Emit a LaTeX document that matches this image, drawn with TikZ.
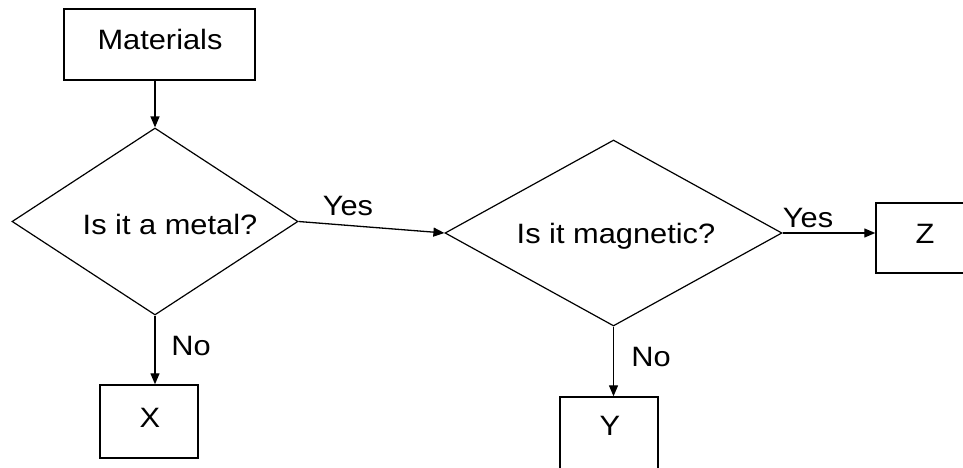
\documentclass[tikz,border=0pt]{standalone}
\usepackage{fontspec}
\setmainfont{Liberation Sans}
\usetikzlibrary{arrows.meta,shapes.geometric}
\newcommand{\wtxt}[1]{\scalebox{1.1}[1]{#1}}
\begin{document}
\begin{tikzpicture}[x=1pt,y=-1pt,
  txt/.style={anchor=base, inner sep=0pt, font=\fontsize{28}{32}\selectfont},
  box/.style={draw, line width=1.4pt, inner sep=0pt},
  dia/.style={draw, diamond, line width=1.2pt, inner sep=0pt},
  conn/.style={line width=1.3pt, -{Triangle[length=11pt,width=9pt]}}]
\clip (0,0) rectangle (963,468);
% shapes
\node[box, minimum width=191pt, minimum height=71pt] (mat) at (159.5,44.5) {};
\node[dia, minimum width=286pt, minimum height=187pt] (d1) at (155,221.5) {};
\node[dia, minimum width=337pt, minimum height=186pt] (d2) at (613.5,233) {};
\node[box, minimum width=98pt, minimum height=73pt] (X) at (149,421.5) {};
\node[box, minimum width=98pt, minimum height=73pt] (Y) at (609,433.5) {};
\node[box, minimum width=98pt, minimum height=70pt] (Z) at (925,238) {};
% texts
\node[txt] (tmat) at (160,50) {\wtxt{Materials}};
\node[txt] (td1) at (170,234) {\wtxt{Is it a metal?}};
\node[txt] (td2) at (616,243) {\wtxt{Is it magnetic?}};
\node[txt] (tX) at (150,427) {\wtxt{X}};
\node[txt] (tY) at (610,435) {\wtxt{Y}};
\node[txt] (tZ) at (925,243) {\wtxt{Z}};
\node[txt] (yes1) at (348,215) {\wtxt{Yes}};
\node[txt] (no1) at (191,355) {\wtxt{No}};
\node[txt] (no2) at (651,366) {\wtxt{No}};
\node[txt] (yes2) at (808,227) {\wtxt{Yes}};
% connectors
\draw[conn] (d1.north |- mat.south) -- (d1.north);
\draw[conn] (d1.south) -- (d1.south |- X.north);
\draw[conn] (d1.east) -- (d2.west);
\draw[conn] (d2.south) -- (d2.south |- Y.north);
\draw[conn] (d2.east) -- (d2.east -| Z.west);
\end{tikzpicture}
\end{document}
